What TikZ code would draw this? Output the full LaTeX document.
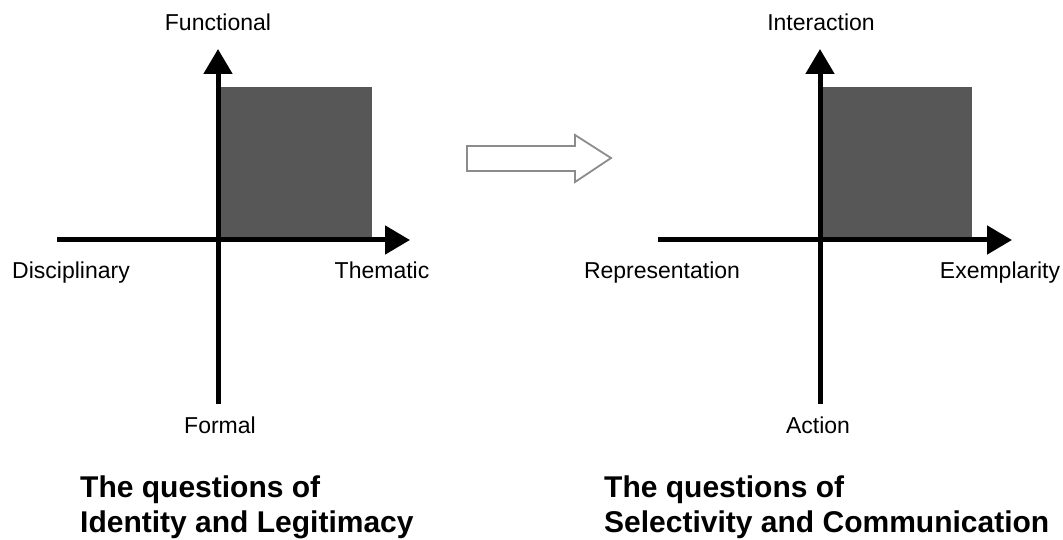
\documentclass[tikz,border=0pt]{standalone}
\usepackage{fontspec}
\setmainfont{Liberation Sans}
\usetikzlibrary{arrows.meta}

\tikzset{
  axis/.style={line width=5pt, -{Triangle[length=25pt,width=28pt]}},
  quadrant/.style={fill=black!66},
  axislabel/.style={font=\fontsize{23}{27}\selectfont, anchor=base, inner sep=0pt},
  qtitle/.style={font=\fontsize{30}{35}\selectfont\bfseries, anchor=base west, inner sep=0pt},
  shiftarrow/.style={draw=black!45, line width=1.8pt, fill=white, line join=miter}
}

\begin{document}
\begin{tikzpicture}[x=1pt, y=-1pt]
  \useasboundingbox (0,0) rectangle (1063,540);

  % left quadrant: identity and legitimacy
  \fill[quadrant] (219,87) rectangle (372,240);
  \coordinate (lW) at (57,240);
  \coordinate (lE) at (410,240);
  \coordinate (lS) at (218,404);
  \coordinate (lN) at (218,49);
  \draw[axis] (lW) -- (lE);
  \draw[axis] (lS) -- (lN);
  \node[axislabel] (functional) at (218,31) {Functional};
  \node[axislabel] (disciplinary) at (71,279) {Disciplinary};
  \node[axislabel] (thematic) at (382,279) {Thematic};
  \node[axislabel] (formal) at (220,433) {Formal};
  \node[qtitle] (ltitleA) at (80,497) {The questions of};
  \node[qtitle] (ltitleB) at (80,532) {Identity and Legitimacy};

  % shift between the two
  \draw[shiftarrow] (467,146) -- (575,146) -- (575,135) -- (611,158)
    -- (575,182) -- (575,171) -- (467,171) -- cycle;

  % right quadrant: selectivity and communication
  \fill[quadrant] (821,87) rectangle (972,240);
  \coordinate (rW) at (658,240);
  \coordinate (rE) at (1012,240);
  \coordinate (rS) at (820,404);
  \coordinate (rN) at (820,49);
  \draw[axis] (rW) -- (rE);
  \draw[axis] (rS) -- (rN);
  \node[axislabel] (interaction) at (821,31) {Interaction};
  \node[axislabel] (representation) at (662,279) {Representation};
  \node[axislabel] (exemplarity) at (1000,279) {Exemplarity};
  \node[axislabel] (action) at (818,433) {Action};
  \node[qtitle] (rtitleA) at (604,497) {The questions of};
  \node[qtitle] (rtitleB) at (604,532) {Selectivity and Communication};
\end{tikzpicture}
\end{document}
